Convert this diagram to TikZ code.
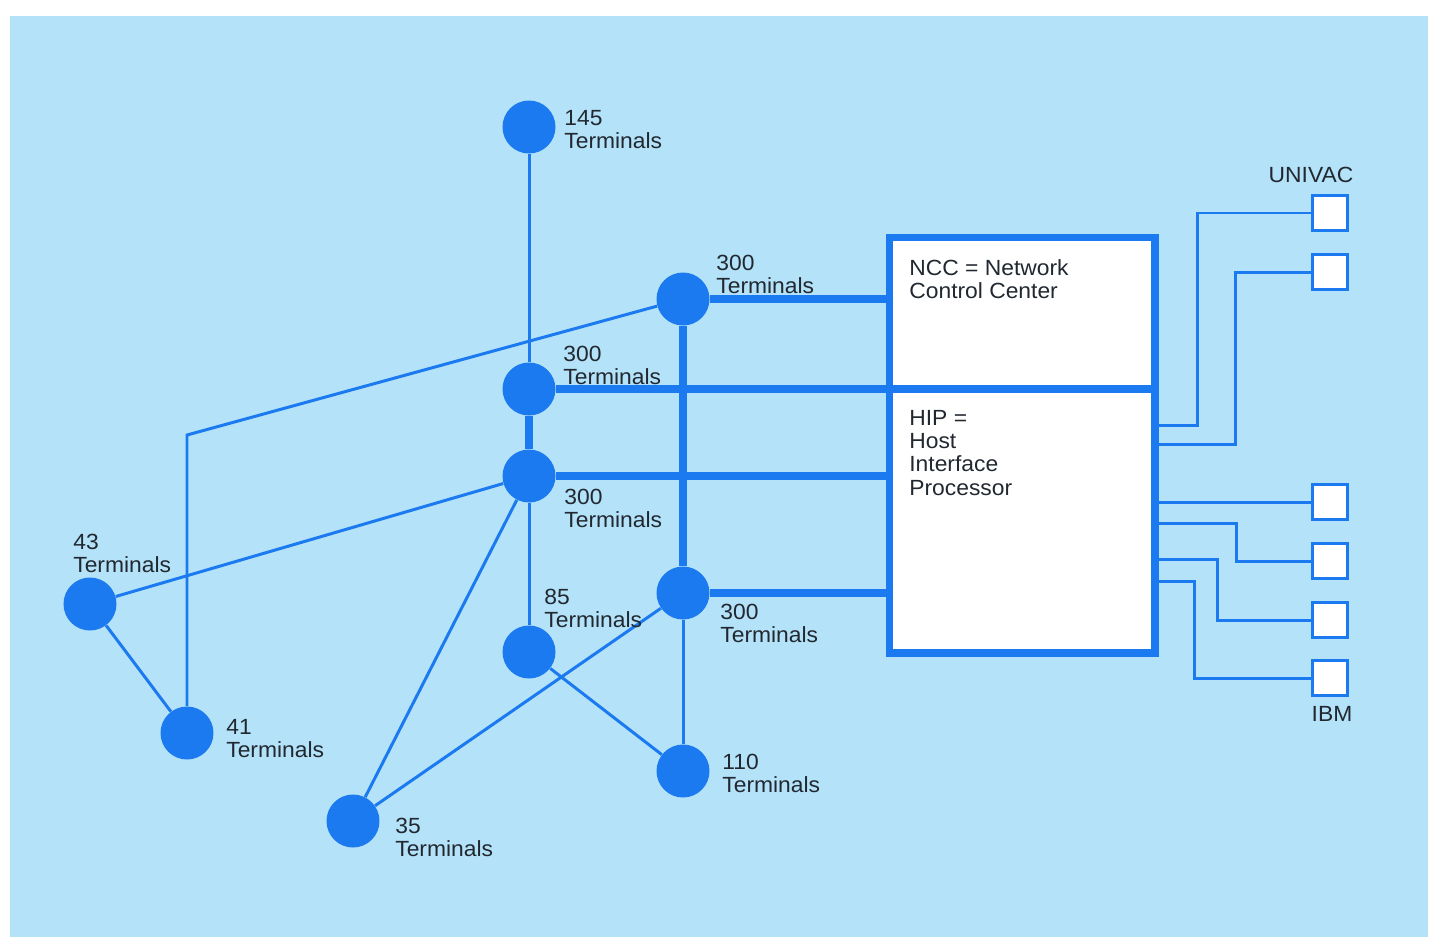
\documentclass[tikz,border=0pt]{standalone}
\usepackage{fontspec}
\setmainfont[FakeStretch=1.04]{Liberation Sans}
\usetikzlibrary{positioning,calc}
\definecolor{paneblue}{RGB}{180,226,249}
\definecolor{netblue}{RGB}{28,122,240}
\definecolor{inkgray}{RGB}{34,40,48}

\begin{document}
\begin{tikzpicture}[x=0.02cm, y=-0.02cm,
  site/.style={circle,fill=netblue,minimum size=1.06cm,inner sep=0pt},
  host/.style={rectangle,fill=white,draw=netblue,line width=4pt,minimum width=5.32cm,inner sep=0pt},
  port/.style={rectangle,fill=white,draw=netblue,line width=1.7pt,minimum size=0.7cm,inner sep=0pt},
  lbl/.style={anchor=north west,align=left,inner sep=0pt,text=inkgray,font=\fontsize{12.5}{13.2}\selectfont},
  trunk/.style={draw=netblue,line width=4pt},
  link/.style={draw=netblue,line width=1.7pt}]
% page and panel
\fill[white] (0,0) rectangle (1433,937);
\fill[paneblue] (10,16) rectangle (1428,937);
\begin{scope}
\node[site] (n145) at (529,127) {};
\node[site] (nA) at (683,299) {};
\node[site] (nB) at (529,389) {};
\node[site] (nC) at (529,476) {};
\node[site] (nD) at (683,593) {};
\node[site] (n85) at (529,652) {};
\node[site] (n110) at (683,771) {};
\node[site] (n43) at (90,604) {};
\node[site] (n41) at (187,733) {};
\node[site] (n35) at (353,821) {};
\coordinate (k41) at (187,435);
\end{scope}
% host processors
\node[host,minimum height=3.04cm] (ncc) at (1022,313) {};
\node[host,minimum height=5.28cm] (hip) at (1022,521) {};
\node[port] (s1) at (1330,213) {};
\node[port] (s2) at (1330,272) {};
\node[port] (s3) at (1330,502) {};
\node[port] (s4) at (1330,561) {};
\node[port] (s5) at (1330,620) {};
\node[port] (s6) at (1330,678) {};
\coordinate (p1) at (1155,425);
\coordinate (p2) at (1155,444);
\coordinate (p3) at (1155,502);
\coordinate (p4) at (1155,523);
\coordinate (p5) at (1155,559);
\coordinate (p6) at (1155,581);
\begin{scope}
\draw[trunk] (nA) -- (nA -| ncc.west);
\draw[trunk] (nB) -- (nB -| ncc.west);
\draw[trunk] (nC) -- (nC -| hip.west);
\draw[trunk] (nD) -- (nD -| hip.west);
\draw[trunk] (nB) edge (nC);
\draw[trunk] (nA) edge (nD);
\draw[link] (n145) edge (nB);
\draw[link] (nC) edge (n85);
\draw[link] (nD) edge (n110);
\draw[link] (n85) edge (n110);
\draw[link] (nA) -- (k41) -- (n41);
\draw[link] (n43) edge (nC);
\draw[link] (n43) edge (n41);
\draw[link] (n35) edge (nC);
\draw[link] (n35) edge (nD);
\draw[link] (p1) -- ++(42,0) |- (s1);
\draw[link] (p2) -- ++(80,0) |- (s2);
\draw[link] (p3) -- (s3);
\draw[link] (p4) -- ++(81,0) |- (s4);
\draw[link] (p5) -- ++(62,0) |- (s5);
\draw[link] (p6) -- ++(39,0) |- (s6);
\end{scope}
% labels
\node[lbl] (t145) at (564,110) {145\\Terminals};
\node[lbl] (tA) at (716,255) {300\\Terminals};
\node[lbl] (tB) at (563,346) {300\\Terminals};
\node[lbl] (tC) at (564,489) {300\\Terminals};
\node[lbl] (tD) at (720,604) {300\\Terminals};
\node[lbl] (t85) at (544,589) {85\\Terminals};
\node[lbl] (t110) at (722,754) {110\\Terminals};
\node[lbl] (t43) at (73,534) {43\\Terminals};
\node[lbl] (t41) at (226,719) {41\\Terminals};
\node[lbl] (t35) at (395,818) {35\\Terminals};
\node[lbl] (tncc) at (909,259) {NCC = Network\\Control Center};
\node[lbl] (thip) at (909,410) {HIP =\\Host\\Interface\\Processor};
\node[lbl,anchor=center] (univac) at (1311,175) {UNIVAC};
\node[lbl,anchor=center] (ibm) at (1332,714) {IBM};
\end{tikzpicture}
\end{document}
